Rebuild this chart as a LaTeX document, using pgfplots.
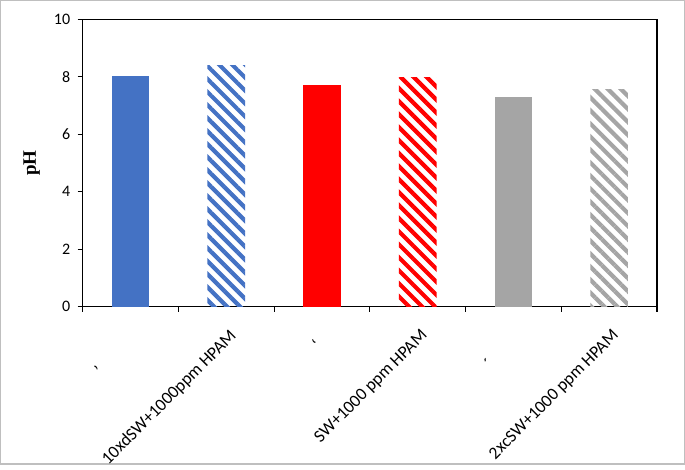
\documentclass[border=0pt]{standalone}
\usepackage{fontspec}
\setmainfont{Carlito}
\newfontfamily\tnr{Liberation Serif}
\usepackage{pgfplots}
\pgfplotsset{compat=1.18}
\usetikzlibrary{patterns.meta}
\definecolor{cblue}{HTML}{4472C4}
\definecolor{cred}{HTML}{FF0000}
\definecolor{cgray}{HTML}{A5A5A5}
\definecolor{frame}{HTML}{BFBFBF}
\begin{document}
\begin{tikzpicture}
\path[use as bounding box] (0,0) rectangle (685bp,470bp);
\draw[line width=1.2bp, frame] (0.6bp,6bp) rectangle (684.4bp,469.4bp);
\begin{axis}[
  at={(82.7bp,163.3bp)}, anchor=south west,
  scale only axis, width=574.3bp, height=287.4bp,
  xmin=-0.5, xmax=5.5, ymin=0, ymax=10,
  ytick={0,2,...,10},
  xtick={0,...,5},
  xticklabels={{’\kern52bp\relax}, {10xdSW+1000ppm HPAM}, {‘\kern15bp\relax}, {SW+1000 ppm HPAM}, {´\kern41bp\relax}, {2xcSW+1000 ppm HPAM}},
  minor xtick={-0.5,0.5,...,5.5},
  axis line style={line width=1.1bp},
  tick align=outside,
  major tick length=5bp,
  minor tick length=5bp,
  x tick style={draw=none},
  minor x tick style={draw=black, line width=1.1bp},
  y tick style={line width=1.1bp, black},
  xtick pos=bottom, ytick pos=left,
  /pgf/number format/assume math mode=true,
  yticklabel style={font=\fontsize{16bp}{19bp}\selectfont, xshift=-4bp},
  xticklabel style={font=\fontsize{17.5bp}{21bp}\selectfont, rotate=45, anchor=north east, inner sep=0pt, xshift=-10bp, yshift=-13bp},
  ylabel={\tnr\bfseries pH},
  every axis y label/.style={at={(axis description cs:0,0.5)}, xshift=-51bp, rotate=90, anchor=center, font=\fontsize{19bp}{22bp}\selectfont},
  every axis plot/.append style={ybar, bar width=37.6bp, bar shift=0pt},
]
\addplot[fill=cblue, draw=none] coordinates {(0,8.02)};
\addplot[pattern={Lines[angle=-45, distance=9.2bp, line width=4.2bp]}, pattern color=cblue, draw=none] coordinates {(1,8.40)};
\addplot[fill=cred, draw=none] coordinates {(2,7.71)};
\addplot[pattern={Lines[angle=-45, distance=9.2bp, line width=4.2bp]}, pattern color=cred, draw=none] coordinates {(3,7.98)};
\addplot[fill=cgray, draw=none] coordinates {(4,7.31)};
\addplot[pattern={Lines[angle=-45, distance=9.2bp, line width=4.2bp]}, pattern color=cgray, draw=none] coordinates {(5,7.54)};
\end{axis}
\end{tikzpicture}
\end{document}
